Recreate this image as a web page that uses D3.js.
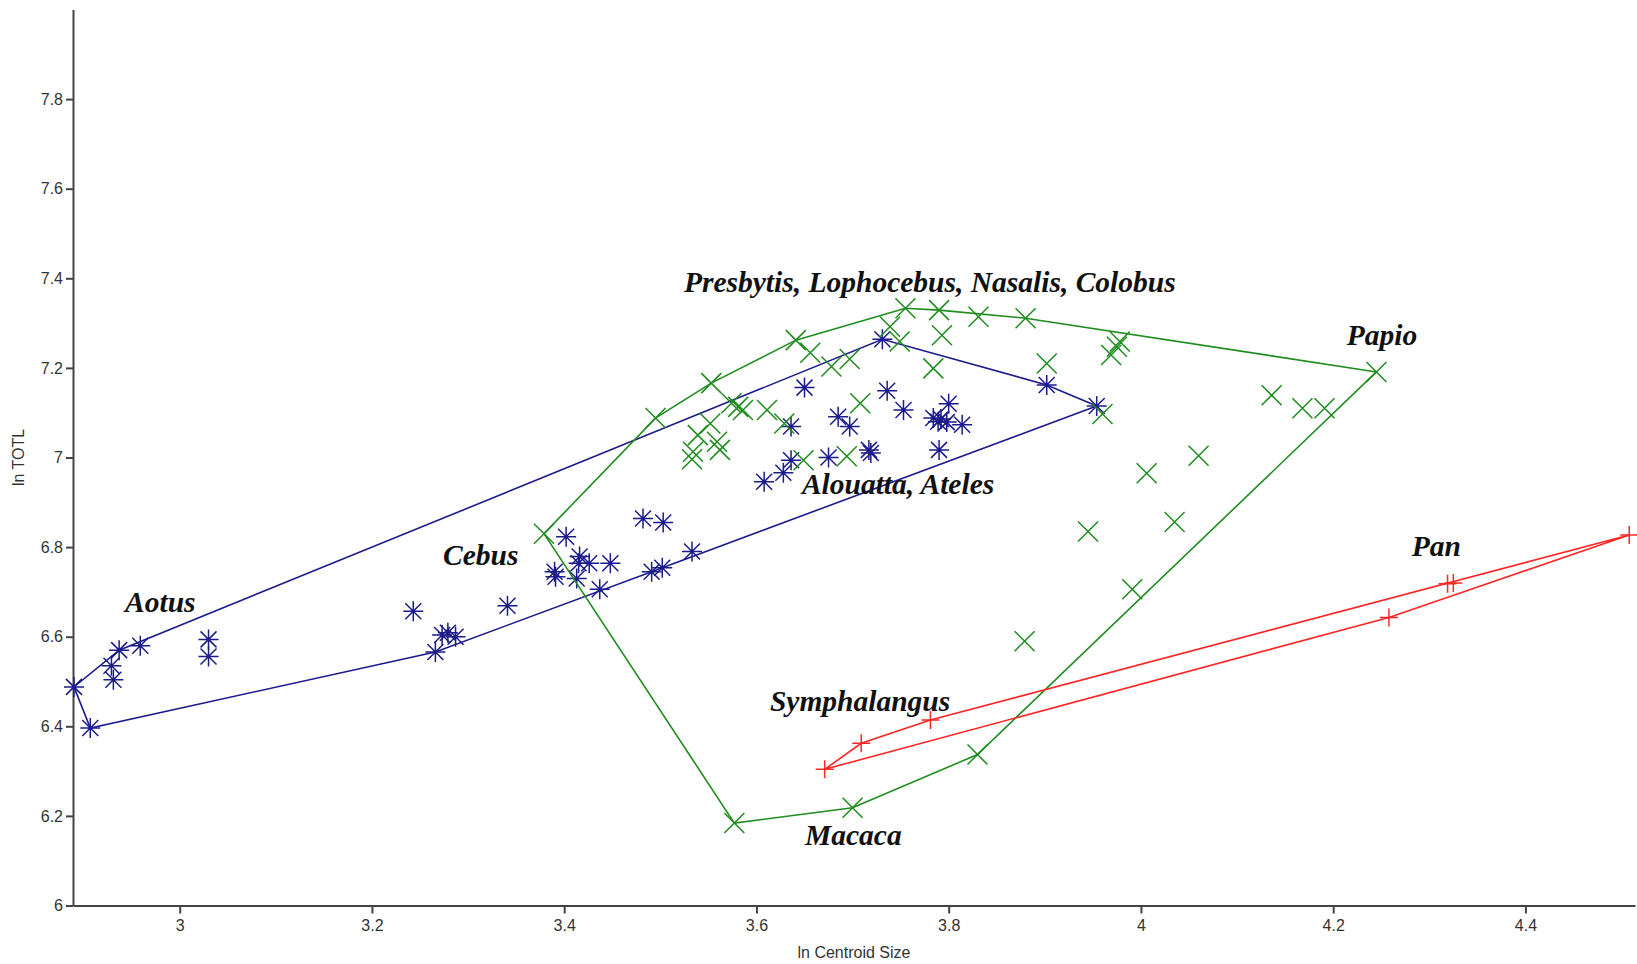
<!DOCTYPE html>
<html>
<head>
<meta charset="utf-8">
<script src="https://cdn.jsdelivr.net/npm/d3@7/dist/d3.min.js"></script>
<style>
  html, body { margin: 0; padding: 0; background: #fff; }
  svg { display: block; }
  .axis text { font-family: "Liberation Sans", Arial, sans-serif; font-size: 16px; fill: #333; }
  .axis path, .axis line { stroke: #444; stroke-width: 2; }
  .axis-title { font-family: "Liberation Sans", Arial, sans-serif; font-size: 16px; fill: #333; }
  .genus { font-family: "Liberation Serif", "Times New Roman", serif; font-weight: bold; font-style: italic; font-size: 29.5px; fill: #111; }
</style>
</head>
<body>
<svg id="chart" width="1637" height="964"></svg>
<script>
// ln centroid size vs ln TOTL, three primate groups with convex hulls

// Platyrrhini: Aotus, Cebus, Alouatta, Ateles  [ln centroid size, ln TOTL]
const platyrrhini = [
  [2.890, 6.488], [2.907, 6.396], [2.929, 6.535], [2.931, 6.504], [2.937, 6.570],
  [2.959, 6.580], [3.030, 6.594], [3.030, 6.556],
  [3.243, 6.657], [3.266, 6.566], [3.273, 6.604], [3.279, 6.609], [3.287, 6.600],
  [3.341, 6.669], [3.390, 6.745], [3.391, 6.734], [3.402, 6.823], [3.413, 6.730],
  [3.416, 6.779], [3.415, 6.764], [3.426, 6.764], [3.437, 6.706], [3.448, 6.764],
  [3.482, 6.864], [3.503, 6.855], [3.491, 6.745], [3.502, 6.754], [3.533, 6.790],
  [3.608, 6.946], [3.628, 6.966], [3.636, 6.994], [3.636, 7.069], [3.650, 7.156],
  [3.675, 7.000], [3.685, 7.091], [3.697, 7.069], [3.717, 7.017], [3.719, 7.010],
  [3.731, 7.264], [3.736, 7.149], [3.753, 7.106], [3.784, 7.088], [3.789, 7.080],
  [3.792, 7.086], [3.798, 7.079], [3.800, 7.120], [3.814, 7.073], [3.790, 7.017],
  [3.902, 7.162], [3.954, 7.115]
];

// Cercopithecidae: Presbytis, Lophocebus, Nasalis, Colobus, Papio, Macaca
const cercopithecidae = [
  [3.379, 6.830], [3.495, 7.088], [3.553, 7.166], [3.641, 7.262], [3.656, 7.234],
  [3.678, 7.203], [3.697, 7.220], [3.739, 7.292], [3.749, 7.259], [3.755, 7.333],
  [3.790, 7.329], [3.793, 7.273], [3.784, 7.199], [3.831, 7.314], [3.880, 7.311],
  [3.902, 7.210], [3.969, 7.229], [3.975, 7.247], [3.978, 7.259], [3.960, 7.097],
  [3.708, 7.121], [3.574, 7.121], [3.581, 7.113], [3.586, 7.106], [3.611, 7.106],
  [3.629, 7.076], [3.552, 7.076], [3.539, 7.050], [3.559, 7.035], [3.562, 7.017],
  [3.534, 7.013], [3.533, 6.996], [3.649, 6.994], [3.694, 7.003],
  [4.245, 7.191], [4.136, 7.139], [4.168, 7.110], [4.191, 7.110], [4.060, 7.004],
  [4.006, 6.965], [4.035, 6.856], [3.945, 6.835], [3.991, 6.706], [3.879, 6.590],
  [3.830, 6.337], [3.700, 6.218], [3.577, 6.184]
];

// Hominoidea: Symphalangus, Pan
const hominoidea = [
  [3.671, 6.304], [3.709, 6.362], [3.781, 6.414],
  [4.258, 6.643], [4.319, 6.718], [4.325, 6.720], [4.508, 6.827]
];

// Genus labels, anchored at text start / baseline in data units
const genusNames = ["Presbytis, Lophocebus, Nasalis, Colobus", "Papio", "Alouatta, Ateles",
                    "Cebus", "Aotus", "Symphalangus", "Macaca", "Pan"];
const genusAtSize = [3.5246, 4.2141, 3.6473, 3.2739, 2.9432, 3.6140, 3.6505, 4.2817];
const genusAtTotl = [7.3694, 7.2511, 6.9185, 6.7600, 6.6551, 6.4342, 6.1350, 6.7801];

const xTicks = [3, 3.2, 3.4, 3.6, 3.8, 4, 4.2, 4.4];
const yTicks = [6, 6.2, 6.4, 6.6, 6.8, 7, 7.2, 7.4, 7.6, 7.8];

const W = 1637, H = 964;
const margin = { top: 9.5, right: 2, bottom: 58.5, left: 73 };

const svg = d3.select("#chart");

const x = d3.scaleLinear().domain([2.889, 4.514]).range([margin.left, W - margin.right]);
const y = d3.scaleLinear().domain([6, 8]).range([H - margin.bottom, margin.top]);

const fmt = d3.format("~g");

// axes
svg.append("g")
  .attr("class", "axis")
  .attr("transform", `translate(0,${H - margin.bottom})`)
  .call(d3.axisBottom(x).tickValues(xTicks).tickFormat(fmt).tickSize(8).tickSizeOuter(0).tickPadding(6));

svg.append("g")
  .attr("class", "axis")
  .attr("transform", `translate(${margin.left},0)`)
  .call(d3.axisLeft(y).tickValues(yTicks).tickFormat(fmt).tickSize(7).tickSizeOuter(0).tickPadding(3));

svg.append("text")
  .attr("class", "axis-title")
  .attr("x", (margin.left + W - margin.right) / 2)
  .attr("y", 958)
  .attr("text-anchor", "middle")
  .text("ln Centroid Size");

svg.append("text")
  .attr("class", "axis-title")
  .attr("transform", `translate(24,${(margin.top + H - margin.bottom) / 2}) rotate(-90)`)
  .attr("text-anchor", "middle")
  .text("ln TOTL");

// marker shapes
const asterisk = "M-10,0H10M0,-10V10M-8,-8L8,8M-8,8L8,-8";
const cross = "M-10,-10L10,10M-10,10L10,-10";
const plus = "M-9,0H9M0,-9V9";

const groups = [
  { pts: platyrrhini, color: "#1b1b8c", marker: asterisk },
  { pts: cercopithecidae, color: "#1e8c1e", marker: cross },
  { pts: hominoidea, color: "#ff2626", marker: plus }
];

const hullLine = d3.line().x(d => x(d[0])).y(d => y(d[1])).curve(d3.curveLinearClosed);

groups.forEach(g => {
  const hull = d3.polygonHull(g.pts);
  svg.append("path")
    .attr("d", hullLine(hull))
    .attr("fill", "none")
    .attr("stroke", g.color)
    .attr("stroke-width", 1.6);

  svg.append("g")
    .selectAll("path")
    .data(g.pts)
    .join("path")
    .attr("transform", d => `translate(${x(d[0])},${y(d[1])})`)
    .attr("d", g.marker)
    .attr("fill", "none")
    .attr("stroke", g.color)
    .attr("stroke-width", 1.5);
});

// genus labels
svg.append("g")
  .selectAll("text")
  .data(genusNames)
  .join("text")
  .attr("class", "genus")
  .attr("x", (d, i) => x(genusAtSize[i]))
  .attr("y", (d, i) => y(genusAtTotl[i]))
  .text(d => d);
</script>
</body>
</html>
